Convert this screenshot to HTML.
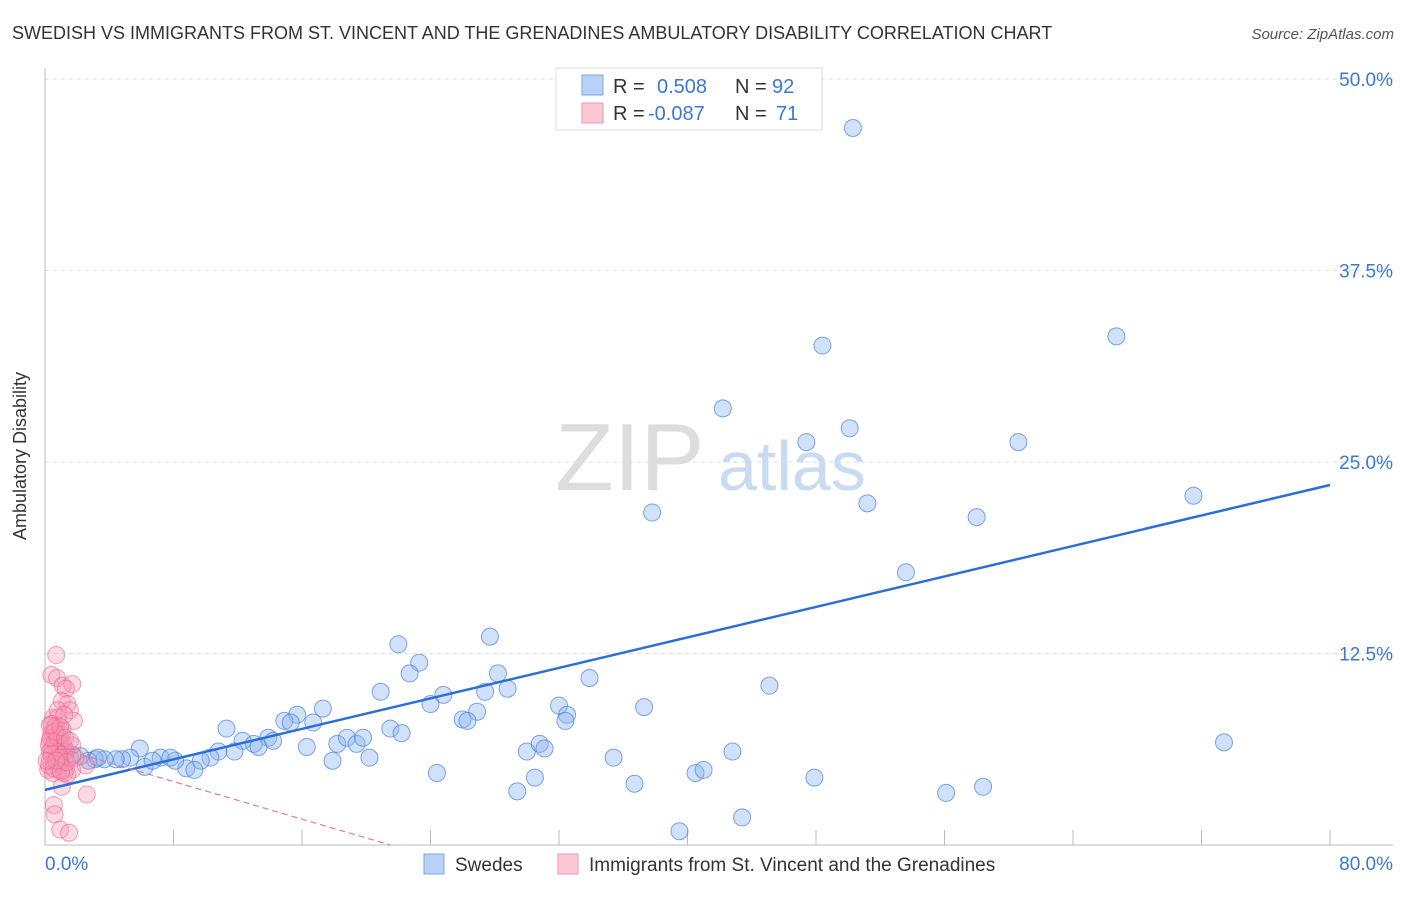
<!DOCTYPE html>
<html><head><meta charset="utf-8"><style>
body{margin:0;background:#fff;font-family:"Liberation Sans",sans-serif;}
svg text{font-family:"Liberation Sans",sans-serif;}
</style></head><body>
<svg id="chart" width="1406" height="892">
<text x="12" y="39" font-size="18" fill="#333">SWEDISH VS IMMIGRANTS FROM ST. VINCENT AND THE GRENADINES AMBULATORY DISABILITY CORRELATION CHART</text>
<text x="1394" y="39" font-size="15" fill="#555" font-style="italic" text-anchor="end">Source: ZipAtlas.com</text>
<text x="26" y="456" font-size="18" fill="#333" text-anchor="middle" transform="rotate(-90 26 456)">Ambulatory Disability</text>
<g><text x="555" y="490" font-size="96" fill="#ddd" font-family="Liberation Serif">ZIP</text><text x="718" y="490" font-size="70" fill="#c9daf3">atlas</text></g>
<g id="grid"></g><g id="pts"></g><g id="lines"></g>
<g>
<rect x="556" y="68" width="266" height="62" fill="#fff" stroke="#ddd"/>
<rect x="582" y="75" width="21" height="20" fill="#b8d2f5" stroke="#7aa8e6"/>
<rect x="582" y="103" width="21" height="20" fill="#fcc8d6" stroke="#f095b0"/>
<text x="613" y="93" font-size="20" fill="#333">R =</text><text x="657" y="93" font-size="20" fill="#3a78d8">0.508</text>
<text x="735" y="93" font-size="20" fill="#333">N =</text><text x="772" y="93" font-size="20" fill="#3a78d8">92</text>
<text x="613" y="120" font-size="20" fill="#333">R =</text><text x="648" y="120" font-size="20" fill="#3a78d8">-0.087</text>
<text x="735" y="120" font-size="20" fill="#333">N =</text><text x="776" y="120" font-size="20" fill="#3a78d8">71</text>
</g>
<g>
<rect x="424" y="854" width="20" height="20" fill="#b8d2f5" stroke="#7aa8e6"/>
<text x="455" y="871" font-size="19" fill="#333">Swedes</text>
<rect x="558" y="854" width="20" height="20" fill="#fcc8d6" stroke="#f095b0"/>
<text x="589" y="871" font-size="19" fill="#333">Immigrants from St. Vincent and the Grenadines</text>
</g>
</svg>
<script>
const yTicks=[12.5,25,37.5,50];
const yTickLabels=["12.5%","25.0%","37.5%","50.0%"];
const blueX=[50.3,48.4,66.7,42.2,47.4,50.1,60.6,37.8,51.2,58.0,71.5,53.6,22.0,27.7,23.3,22.7,28.2,20.9,24.8,27.4,28.8,33.9,45.1,17.3,15.7,14.9,15.3,16.7,24.0,26.9,26.0,26.3,32.0,32.5,32.4,37.3,11.3,13.9,12.3,13.0,13.3,14.2,16.3,18.2,18.8,19.4,19.8,21.5,22.2,10.8,10.3,11.8,9.7,8.8,9.3,8.1,7.2,6.2,5.9,7.8,6.7,5.3,4.8,4.4,3.7,3.1,2.7,2.2,1.7,1.2,0.9,0.6,17.9,20.2,30.0,30.8,31.1,35.4,42.8,24.4,30.5,29.4,36.7,40.5,41.0,47.9,56.1,58.4,43.4,39.5,73.4,3.3,0.9];
const blueY=[46.8,32.6,33.2,28.5,26.3,27.2,26.3,21.7,22.3,21.4,22.8,17.8,13.1,13.6,11.9,11.2,11.2,10.0,9.8,10.0,10.2,10.9,10.4,8.9,8.5,8.1,8.0,8.0,9.2,8.7,8.2,8.1,9.1,8.5,8.1,9.0,7.6,7.0,6.8,6.6,6.4,6.8,6.4,6.6,7.0,6.6,7.0,7.6,7.3,6.1,5.7,6.1,5.5,5.0,4.9,5.5,5.7,5.1,6.3,5.7,5.5,5.7,5.6,5.6,5.6,5.6,5.5,5.8,5.9,6.1,6.3,6.7,5.5,5.7,6.1,6.6,6.3,5.7,6.1,4.7,4.4,3.5,4.0,4.7,4.9,4.4,3.4,3.8,1.8,0.9,6.7,5.7,5.7];
const pinkX=[0.7,0.4,0.75,1.1,1.7,1.3,1.05,1.4,1.55,0.5,0.8,1.8,0.7,1.1,0.4,0.95,0.3,0.6,0.8,1.25,0.4,0.75,1.05,1.55,0.3,0.55,0.95,1.3,1.7,0.2,0.5,0.85,1.2,1.4,0.6,0.95,0.3,0.75,1.1,0.5,0.95,1.3,0.4,0.8,0.25,0.55,1.0,1.35,1.7,1.9,2.55,1.05,2.6,0.55,0.6,0.95,1.5,0.8,1.2,0.4,0.7,0.8,1.05,0.25,0.35,0.6,0.95,1.25,1.55,0.1,0.3];
const pinkY=[12.4,11.1,10.9,10.4,10.5,10.2,9.4,9.2,8.8,8.3,8.3,8.1,7.8,7.5,7.3,7.0,6.8,6.7,6.5,6.3,6.2,6.1,5.9,5.7,5.5,5.4,5.2,5.0,4.9,4.9,4.7,4.9,4.7,4.6,7.7,5.5,6.1,7.2,6.6,6.4,6.25,6.1,5.9,5.7,5.2,5.0,4.8,5.4,6.5,5.7,5.2,3.8,3.3,2.6,2.0,1.0,0.8,8.8,8.5,7.9,5.5,7.0,7.2,6.5,7.0,7.4,7.7,7.0,6.8,5.5,7.8];
const blueTrend=[3.6,23.5]; // y at x=0 and x=80
const pinkTrend=[6.6,-0.307]; // intercept, slope
const X0=45,X1=1330,Y0=845,YT=79;
const sx=v=>X0+v/80*(X1-X0), sy=v=>Y0-v/50*(Y0-YT);
const NS="http://www.w3.org/2000/svg";
function mk(p,t,a){const e=document.createElementNS(NS,t);for(const k in a)e.setAttribute(k,a[k]);p.appendChild(e);return e;}
const grid=document.getElementById('grid');
yTicks.forEach((t,i)=>{
 const l=mk(grid,'line',{x1:45,x2:1393,y1:sy(t),y2:sy(t),stroke:'#ddd','stroke-dasharray':'4,4'});
 
 
 const tx=mk(grid,'text',{x:1393,y:sy(t)+7,'font-size':19,fill:'#3a78d8','text-anchor':'end'});
 tx.textContent=yTickLabels[i];
 
 
});
const ax=mk(grid,'line',{x1:45,x2:45,y1:68,y2:845,stroke:'#bbb'});


const bx=mk(grid,'line',{x1:45,x2:1393,y1:845,y2:845,stroke:'#bbb'});


for(let i=1;i<=10;i++){const t=mk(grid,'line',{x1:sx(i*8),x2:sx(i*8),y1:830,y2:845,stroke:'#bbb'});
 
 }
[["0.0%",45,"start"],["80.0%",1393,"end"]].forEach(d=>{const t=mk(grid,'text',{x:d[1],y:870,'font-size':19,fill:'#3a78d8','text-anchor':d[2]});t.textContent=d[0];
 
 });
const pts=document.getElementById('pts');
blueX.forEach((x,i)=>{const c=mk(pts,'circle',{cx:sx(x),cy:sy(blueY[i]),r:8.5,fill:'rgba(140,180,240,0.4)',stroke:'rgba(70,130,220,0.7)','stroke-width':1});
 
 });
pinkX.forEach((x,i)=>{const c=mk(pts,'circle',{cx:sx(x),cy:sy(pinkY[i]),r:8.5,fill:'rgba(245,150,180,0.35)',stroke:'rgba(235,100,140,0.6)','stroke-width':1});
 
 });
const lines=document.getElementById('lines');
const bl=mk(lines,'line',{x1:sx(0),y1:sy(blueTrend[0]),x2:sx(80),y2:sy(blueTrend[1]),stroke:'#2a6fd6','stroke-width':2.5});


const xe=-pinkTrend[0]/pinkTrend[1];
const pl=mk(lines,'line',{x1:sx(1),y1:sy(pinkTrend[0]+pinkTrend[1]),x2:sx(xe),y2:sy(0),stroke:'#e8789a','stroke-width':1.2,'stroke-dasharray':'6,4'});


</script>
</body></html>
